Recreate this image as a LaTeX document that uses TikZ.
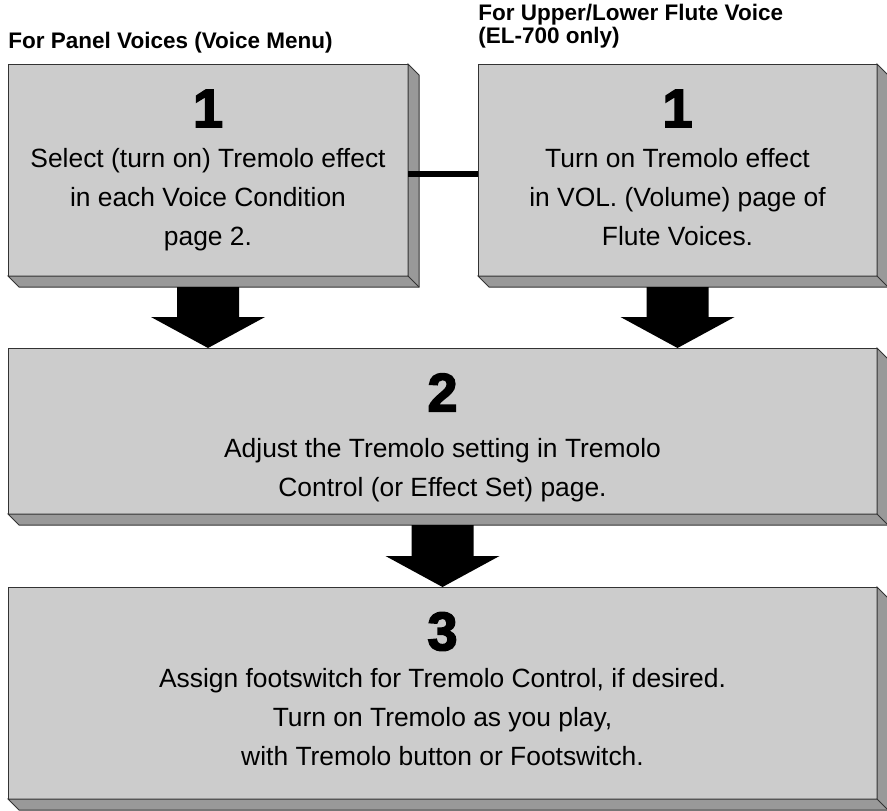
\documentclass[tikz,border=0pt]{standalone}
\usepackage{fontspec}
\setmainfont{Liberation Sans}
\newfontfamily\numfont[FakeBold=3]{Liberation Sans Bold}
\usetikzlibrary{calc}
\definecolor{face}{HTML}{CCCCCC}
\definecolor{shade}{HTML}{999999}
\definecolor{rim}{HTML}{333333}

% extruded edge on the right and bottom of a box node
\newcommand{\bevel}[1]{%
  \draw[side face] (#1.north east) -- ++(11,11) -- ($(#1.south east)+(11,11)$)
    -- ($(#1.south west)+(11,11)$) -- (#1.south west) -- (#1.south east) -- cycle;
  \draw[rim, line width=0.5pt] (#1.south east) -- ++(11,11);
}
% thick down arrow from #1 (top of shaft) to #2 (tip)
\newcommand{\blockarrow}[2]{%
  \fill[black] ($(#1)+(-31,0)$) -- ($(#1)+(31,0)$) -- ($(#2)+(31,-31)$)
    -- ($(#2)+(57,-31)$) -- (#2) -- ($(#2)+(-57,-31)$) -- ($(#2)+(-31,-31)$) -- cycle;
}

\begin{document}
\begin{tikzpicture}[
  x=0.5pt, y=-0.5pt,
  % boxes
  panel/.style={
    rectangle,
    draw=rim,
    fill=face,
    line width=0.5pt,
    outer sep=0pt,
    inner sep=0pt,
  },
  side face/.style={
    draw=rim,
    fill=shade,
    line width=0.5pt,
  },
  % texts
  heading/.style={font=\fontsize{11.25}{9}\selectfont\bfseries, inner sep=0pt, align=left},
  stepnum/.style={font=\fontsize{27}{27}\numfont, inner sep=0pt},
  body/.style={font=\fontsize{13.2}{19.5}\selectfont, inner sep=0pt, align=center, anchor=base},
  link/.style={line width=3pt, draw=black},
]
  \useasboundingbox (0,0) rectangle (887,810);

  % Boxes
  \node[panel, minimum width=200pt, minimum height=106pt] (sel) at (208,170) {};
  \node[panel, minimum width=199.5pt, minimum height=106pt] (vol) at (677.5,170) {};
  \node[panel, minimum width=434.5pt, minimum height=83pt] (adj) at (442.5,431) {};
  \node[panel, minimum width=434.5pt, minimum height=106pt] (asg) at (442.5,693) {};

  \bevel{sel}
  \bevel{vol}
  \bevel{adj}
  \bevel{asg}

  % Headings
  \node[heading, anchor=base west] (h1) at (8,48) {For Panel Voices (Voice Menu)};
  \node[heading, anchor=base west] (h2) at (478,43) {For Upper/Lower Flute Voice\\(EL-700 only)};

  % Step numbers and texts (base = last line)
  \node[stepnum] (n1a) at ($(sel.north)+(0,44.5)$) {1};
  \node[body] (t1a) at ($(sel.north)+(0,181)$)
    {Select (turn on) Tremolo effect\\in each Voice Condition\\page 2.};
  \node[stepnum] (n1b) at ($(vol.north)+(0,44.5)$) {1};
  \node[body] (t1b) at ($(vol.north)+(0,181)$)
    {Turn on Tremolo effect\\in VOL. (Volume) page of\\Flute Voices.};
  \node[stepnum] (n2) at ($(adj.north)+(0,44.5)$) {2};
  \node[body] (t2) at ($(adj.north)+(0,148)$)
    {Adjust the Tremolo setting in Tremolo\\Control (or Effect Set) page.};
  \node[stepnum] (n3) at ($(asg.north)+(0,44.5)$) {3};
  \node[body] (t3) at ($(asg.north)+(0,178.5)$)
    {Assign footswitch for Tremolo Control, if desired.\\Turn on Tremolo as you play,\\with Tremolo button or Footswitch.};

  % Link between the two first steps
  \draw[link] ([yshift=-2pt]sel.east) -- ([yshift=-2pt]vol.west);

  % Arrows
  \coordinate (a1s) at ($(sel.south)+(0,11)$);
  \coordinate (a1t) at (sel.south |- adj.north);
  \coordinate (a2s) at ($(vol.south)+(0,11)$);
  \coordinate (a2t) at (vol.south |- adj.north);
  \coordinate (a3s) at ($(adj.south)+(0,11)$);
  \coordinate (a3t) at (adj.south |- asg.north);
  \blockarrow{a1s}{a1t}
  \blockarrow{a2s}{a2t}
  \blockarrow{a3s}{a3t}

\end{tikzpicture}
\end{document}
